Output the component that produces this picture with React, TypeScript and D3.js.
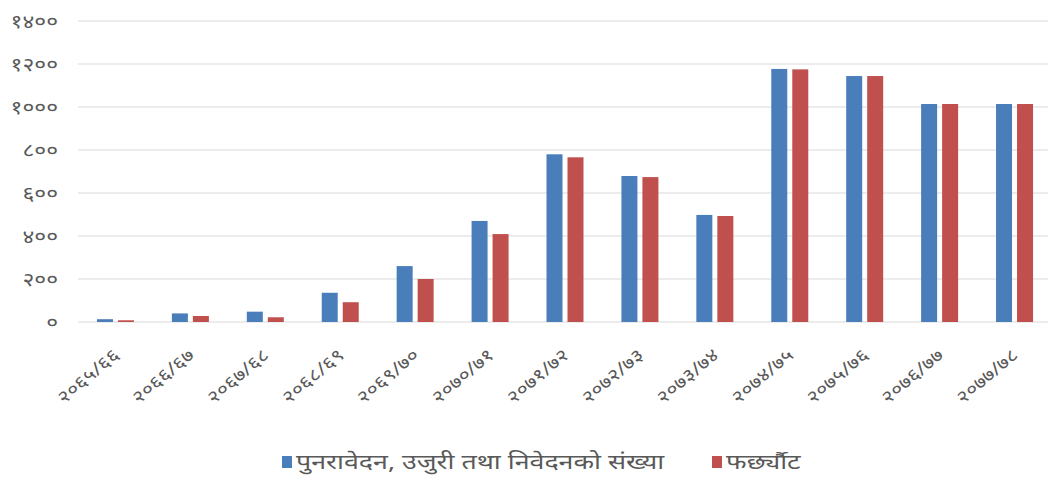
import React, { useEffect, useRef } from 'react';
import * as d3 from 'd3';

const years = [
  '२०६५/६६', '२०६६/६७', '२०६७/६८', '२०६८/६९', '२०६९/७०', '२०७०/७१', '२०७१/७२',
  '२०७२/७३', '२०७३/७४', '२०७४/७५', '२०७५/७६', '२०७६/७७', '२०७७/७८',
];
const filed = [13, 40, 48, 136, 260, 470, 780, 679, 498, 1177, 1144, 1014, 1014];
const settled = [8, 28, 22, 92, 200, 409, 766, 674, 493, 1175, 1144, 1014, 1014];
const seriesNames = ['पुनरावेदन, उजुरी तथा निवेदनको संख्या', 'फर्छ्यौट'];
const colors = ['#4a7ebb', '#c0504d'];
const yTicks = [0, 200, 400, 600, 800, 1000, 1200, 1400];

const devDigits = '०१२३४५६७८९';
const toNepali = (n: number) => String(n).replace(/\d/g, d => devDigits[+d]);

const FONT = '"Noto Sans", "Noto Sans Devanagari", sans-serif';

const App = () => {
  const svgRef = useRef<SVGSVGElement | null>(null);

  useEffect(() => {
    const svg = d3.select(svgRef.current);
    svg.selectAll('*').remove();

    const margin = { top: 21, left: 78 };
    const width = 974; // runs a bit past the right edge, like the original crop
    const height = 301;

    const g = svg.append('g').attr('transform', `translate(${margin.left},${margin.top})`);

    const x = d3.scaleBand().domain(years).range([0, width]);
    const y = d3.scaleLinear().domain([0, 1400]).range([height, 0]);

    // gridlines
    g.selectAll('.grid')
      .data(yTicks)
      .enter()
      .append('line')
      .attr('x1', 0)
      .attr('x2', width)
      .attr('y1', d => y(d))
      .attr('y2', d => y(d))
      .attr('stroke', '#d9d9d9')
      .attr('stroke-width', 1.2);

    // y labels (stretched a little, the original font is wide)
    g.selectAll('.ylab')
      .data(yTicks)
      .enter()
      .append('text')
      .attr('transform', d => `translate(-20,${y(d)}) scale(1.2,1)`)
      .attr('dy', '0.35em')
      .attr('text-anchor', 'end')
      .style('font-family', FONT)
      .style('font-size', '19px')
      .style('fill', '#595959')
      .text(d => toNepali(d));

    const barW = 16;
    const gap = 5;
    [filed, settled].forEach((vals, si) => {
      g.selectAll(`.bar-${si}`)
        .data(vals)
        .enter()
        .append('rect')
        .attr('x', (d, i) => (x(years[i]) as number) + x.bandwidth() / 2 + (si === 0 ? -barW - gap / 2 : gap / 2))
        .attr('y', d => y(d))
        .attr('width', barW)
        .attr('height', d => height - y(d))
        .style('fill', colors[si]);
    });

    // x labels
    g.selectAll('.xlab')
      .data(years)
      .enter()
      .append('text')
      .attr('transform', d => `translate(${(x(d) as number) + x.bandwidth() / 2 + 5},${height + 35}) rotate(-40) scale(1.18,1)`)
      .attr('text-anchor', 'end')
      .style('font-family', FONT)
      .style('font-size', '18px')
      .style('fill', '#595959')
      .text(d => d);

    // legend
    const legendPos = [282, 712];
    seriesNames.forEach((name, i) => {
      svg.append('rect')
        .attr('x', legendPos[i])
        .attr('y', 456)
        .attr('width', 10)
        .attr('height', 12)
        .style('fill', colors[i]);
      svg.append('text')
        .attr('transform', `translate(${legendPos[i] + 14},469) scale(1.34,1)`)
        .style('font-family', FONT)
        .style('font-size', '20px')
        .style('fill', '#595959')
        .text(name);
    });
  }, []);

  return (
    <svg ref={svgRef} width={1048} height={480} style={{ position: 'absolute', left: 0, top: 0, background: '#fff' }}></svg>
  );
};

export default App;
